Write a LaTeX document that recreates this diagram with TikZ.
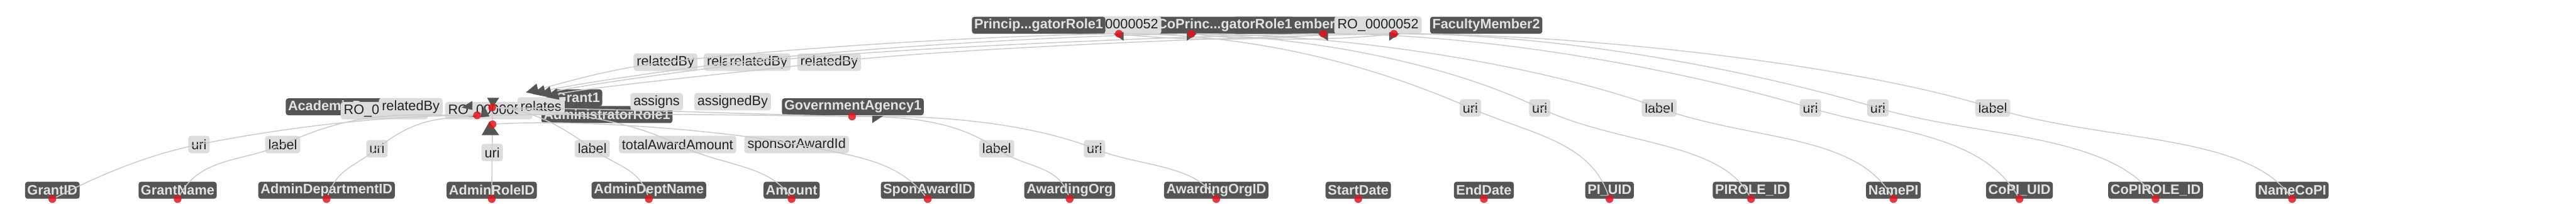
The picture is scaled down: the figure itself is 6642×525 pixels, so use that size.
\documentclass[tikz,border=0pt]{standalone}
\usepackage{fontspec}
\setmainfont{Liberation Sans}
\usepackage{tikz}
\usetikzlibrary{arrows.meta, positioning, calc}
\definecolor{boxgray}{HTML}{555555}
\definecolor{boxtext}{HTML}{E2E2E2}
\definecolor{propfill}{HTML}{DDDDDD}
\definecolor{proptext}{HTML}{222222}
\definecolor{linkgray}{HTML}{CCCCCC}
\definecolor{dotred}{HTML}{E5141B}
\pgfdeclarelayer{boxes}
\pgfdeclarelayer{links}
\pgfsetlayers{boxes,links,main}

\begin{document}
\begin{tikzpicture}[
    x=0.01cm, y=-0.01cm,
    entity/.style={fill=boxgray, text=boxtext, rounded corners=0.07cm, minimum height=0.44cm, inner xsep=0.06cm, inner ysep=0pt, font=\fontsize{10}{12}\selectfont\bfseries},
    prop/.style={fill=propfill, text=proptext, rounded corners=0.07cm, minimum height=0.45cm, inner xsep=0.08cm, inner ysep=0pt, font=\fontsize{10}{12}\selectfont},
    reddot/.style={circle, fill=dotred, fill opacity=0.85, minimum size=0.2cm, inner sep=0pt},
    link/.style={draw=linkgray, line width=0.7pt},
    linkarrow/.style={link, -{Triangle[length=0.32cm, width=0.3cm, color=boxgray]}},
    tipfill/.style={fill=boxgray}
]
\useasboundingbox (0,0) rectangle (6642,525);
\begin{pgfonlayer}{boxes}
\node[entity] (fac1) at (3323,65) {FacultyMember1};
\node[entity] (coprinc) at (3158,65) {CoPrinc...gatorRole1};
\node[prop] (ro2) at (3553,65) {RO\_0000052};
\node[prop] (ro1) at (2882,65) {RO\_0000052};
\node[entity] (princip) at (2678,65) {Princip...gatorRole1};
\node[entity] (fac2) at (3832,65) {FacultyMember2};
\node[prop] (rb1) at (1716,160) {relatedBy};
\node[prop] (rb2) at (1897,160) {relatedBy};
\node[prop] (rb3) at (1956,160) {relatedBy};
\node[prop] (rb4) at (2138,160) {relatedBy};
\node[entity, anchor=west] (acad) at (736,275) {AcademicDepartment1};
\node[prop] (ro52b) at (991,285) {RO\_0000052};
\node[prop] (rb5) at (1059,275) {relatedBy};
\node[prop] (ro53) at (1260,285) {RO\_0000053};
\node[entity] (adminrole) at (1565,295) {AdministratorRole1};
\node[entity] (grant) at (1490,252) {Grant1};
\node[prop] (relates) at (1395,273) {relates};
\node[prop] (assigns) at (1693,262) {assigns};
\node[prop] (assignedby) at (1889,262) {assignedBy};
\node[entity] (gov) at (2199,275) {GovernmentAgency1};
\node[prop] (uri1) at (513,372) {uri};
\node[prop] (lab1) at (729,372) {label};
\node[prop] (uri2) at (972,383) {uri};
\node[prop] (uri3) at (1269,393) {uri};
\node[prop] (lab2) at (1527,383) {label};
\node[prop] (taa) at (1747,372) {totalAwardAmount};
\node[prop] (sai) at (2054,372) {sponsorAwardId};
\node[prop] (lab3) at (2570,383) {label};
\node[prop] (uri4) at (2822,383) {uri};
\node[prop] (uri5) at (3791,278) {uri};
\node[prop] (uri6) at (3970,278) {uri};
\node[prop] (lab4) at (4278,278) {label};
\node[prop] (uri7) at (4668,278) {uri};
\node[prop] (uri8) at (4842,278) {uri};
\node[prop] (lab5) at (5138,278) {label};
\node[entity] (gid) at (135,490) {GrantID};
\node[entity] (gname) at (458,490) {GrantName};
\node[entity] (adid) at (842,490) {AdminDepartmentID};
\node[entity] (arid) at (1268,490) {AdminRoleID};
\node[entity] (adname) at (1673,490) {AdminDeptName};
\node[entity] (amount) at (2041,490) {Amount};
\node[entity] (spon) at (2392,490) {SponAwardID};
\node[entity] (aorg) at (2758,490) {AwardingOrg};
\node[entity] (aorgid) at (3136,490) {AwardingOrgID};
\node[entity] (start) at (3502,490) {StartDate};
\node[entity] (end) at (3826,490) {EndDate};
\node[entity] (piuid) at (4150,490) {PI\_UID};
\node[entity] (pirole) at (4515,490) {PIROLE\_ID};
\node[entity] (namepi) at (4882,490) {NamePI};
\node[entity] (copiuid) at (5207,490) {CoPI\_UID};
\node[entity] (copirole) at (5558,490) {CoPIROLE\_ID};
\node[entity] (namecopi) at (5910,490) {NameCoPI};
\end{pgfonlayer}
\node[reddot] (t1) at (2885,87) {};
\node[reddot] (t2) at (3072,87) {};
\node[reddot] (t3) at (3412,87) {};
\node[reddot] (t4) at (3594,87) {};
\node[reddot] (h1) at (1269,277) {};
\node[reddot] (h2) at (1230,297) {};
\node[reddot] (h3) at (1270,320) {};
\node[reddot] (d-gov) at (2197,300) {};
\node[reddot] (d-gid) at (gid.south) {};
\node[reddot] (d-gname) at (gname.south) {};
\node[reddot] (d-adid) at (adid.south) {};
\node[reddot] (d-arid) at (arid.south) {};
\node[reddot] (d-adname) at (adname.south) {};
\node[reddot] (d-amount) at (amount.south) {};
\node[reddot] (d-spon) at (spon.south) {};
\node[reddot] (d-aorg) at (aorg.south) {};
\node[reddot] (d-aorgid) at (aorgid.south) {};
\node[reddot] (d-start) at (start.south) {};
\node[reddot] (d-end) at (end.south) {};
\node[reddot] (d-piuid) at (piuid.south) {};
\node[reddot] (d-pirole) at (pirole.south) {};
\node[reddot] (d-namepi) at (namepi.south) {};
\node[reddot] (d-copiuid) at (copiuid.south) {};
\node[reddot] (d-copirole) at (copirole.south) {};
\node[reddot] (d-namecopi) at (namecopi.south) {};
\coordinate (rtip1) at (1356,238);
\coordinate (rtip2) at (1374,242);
\coordinate (rtip3) at (1390,245);
\coordinate (rtip4) at (1408,250);
\begin{pgfonlayer}{links}
\draw[linkarrow] (t1) .. controls +(-350,5) and +(300,-35) .. (rb1.center) .. controls +(-150,18) and +(100,-25) .. (rtip1);
\draw[linkarrow] (t2) .. controls +(-350,5) and +(300,-35) .. (rb2.center) .. controls +(-150,18) and +(100,-25) .. (rtip2);
\draw[linkarrow] (t3) .. controls +(-350,5) and +(300,-35) .. (rb3.center) .. controls +(-150,18) and +(100,-25) .. (rtip3);
\draw[linkarrow] (t4) .. controls +(-350,5) and +(300,-35) .. (rb4.center) .. controls +(-150,18) and +(100,-25) .. (rtip4);
\draw[link] (t1) .. controls +(150,18) and +(-150,18) .. (t3);
\draw[link] (t2) .. controls +(150,18) and +(-150,18) .. (t4);
\draw[link] (h2) -- (h1);
\draw[link] (h1) -- (h3);
\draw[link] (h1) .. controls +(400,5) and +(-400,-10) .. (d-gov);
\draw[link] (h2) .. controls +(450,-5) and +(-400,-5) .. (d-gov);
\draw[link] (h2) .. controls +(-250,0) and +(200,-40) .. (uri1.center) .. controls +(-150,30) and +(100,-50) .. (d-gid);
\draw[link] (h2) .. controls +(-200,0) and +(200,-90) .. (lab1.center) .. controls +(-100,45) and +(60,-110) .. (d-gname);
\draw[link] (h2) .. controls +(-100,10) and +(100,-80) .. (uri2.center) .. controls +(-60,48) and +(30,-80) .. (d-adid);
\draw[link] (h3) -- (uri3.center) -- (d-arid);
\draw[link] (h1) .. controls +(100,5) and +(-80,-60) .. (lab2.center) .. controls +(56,42) and +(-25,-80) .. (d-adname);
\draw[link] (h1) .. controls +(200,10) and +(-120,-60) .. (taa.center) .. controls +(110,55) and +(-60,-90) .. (d-amount);
\draw[link] (h3) .. controls +(250,-15) and +(-150,-30) .. (sai.center) .. controls +(150,30) and +(-80,-100) .. (d-spon);
\draw[link] (d-gov) .. controls +(150,0) and +(-100,-70) .. (lab3.center) .. controls +(70,50) and +(-30,-90) .. (d-aorg);
\draw[link] (d-gov) .. controls +(250,-5) and +(-150,-60) .. (uri4.center) .. controls +(110,45) and +(-60,-90) .. (d-aorgid);
\draw[link] (t1) .. controls +(350,0) and +(-250,-110) .. (uri5.center) .. controls +(150,66) and +(-50,-150) .. (d-piuid);
\draw[link] (t2) .. controls +(300,10) and +(-250,-120) .. (uri6.center) .. controls +(200,96) and +(-80,-150) .. (d-pirole);
\draw[link] (t2) .. controls +(400,0) and +(-300,-110) .. (lab4.center) .. controls +(230,84) and +(-100,-170) .. (d-namepi);
\draw[link] (t3) .. controls +(450,0) and +(-300,-90) .. (uri7.center) .. controls +(200,60) and +(-100,-170) .. (d-copiuid);
\draw[link] (t4) .. controls +(450,0) and +(-300,-90) .. (uri8.center) .. controls +(250,75) and +(-120,-170) .. (d-copirole);
\draw[link] (t4) .. controls +(500,0) and +(-350,-110) .. (lab5.center) .. controls +(280,88) and +(-120,-170) .. (d-namecopi);
\fill[tipfill] ($(h1)+(-13,-25)$) -- ($(h1)+(18,-25)$) -- ($(h1)+(1,0)$) -- cycle;
\fill[tipfill] ($(h2)+(-40,-20)$) -- ($(h2)+(-12,-37)$) -- ($(h2)+(-12,-14)$) -- cycle;
\fill[tipfill] ($(h2)+(18,-25)$) -- ($(h2)+(8,5)$) -- ($(h2)+(32,3)$) -- cycle;
\fill[tipfill] ($(h3)+(-8,-7)$) -- ($(h3)+(-28,28)$) -- ($(h3)+(17,28)$) -- cycle;
\fill[tipfill] ($(d-gov)+(52,-2)$) -- ($(d-gov)+(81,-2)$) -- ($(d-gov)+(52,17)$) -- cycle;
\fill[tipfill] ($(t1)+(-14,0)$) -- ($(t1)+(12,-4)$) -- ($(t1)+(12,18)$) -- cycle;
\fill[tipfill] ($(t2)+(14,0)$) -- ($(t2)+(-12,-4)$) -- ($(t2)+(-12,18)$) -- cycle;
\fill[tipfill] ($(t3)+(-14,0)$) -- ($(t3)+(12,-4)$) -- ($(t3)+(12,18)$) -- cycle;
\fill[tipfill] ($(t4)+(14,0)$) -- ($(t4)+(-12,-4)$) -- ($(t4)+(-12,18)$) -- cycle;
\end{pgfonlayer}
\end{tikzpicture}
\end{document}
